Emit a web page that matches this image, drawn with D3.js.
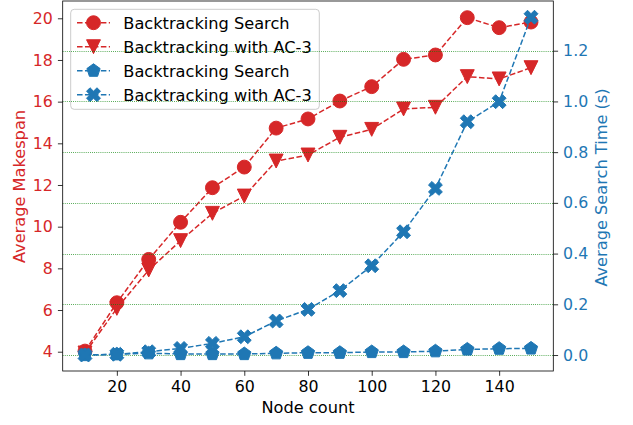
<!DOCTYPE html>
<html>
<head>
<meta charset="utf-8">
<script src="https://cdn.jsdelivr.net/npm/d3@7"></script>
<style>
  html, body { margin: 0; padding: 0; background: #fff; }
  svg { display: block; font-family: "DejaVu Sans", sans-serif; }
</style>
</head>
<body>
<svg id="chart" width="633" height="425"></svg>
<script>
// Node counts on the x axis
const nodeCounts = [10, 20, 30, 40, 50, 60, 70, 80, 90, 100, 110, 120, 130, 140, 150];

// Average makespan (left axis)
const makespanBacktracking = [4.03, 6.35, 8.43, 10.21, 11.87, 12.86, 14.73, 15.17, 16.03, 16.72, 18.03, 18.24, 20.03, 19.55, 19.82];
const makespanAC3 = [3.94, 6.08, 7.92, 9.33, 10.64, 11.47, 13.15, 13.44, 14.29, 14.67, 15.65, 15.73, 17.20, 17.09, 17.63];

// Average search time in seconds (right axis)
const timeBacktracking = [0.000, 0.003, 0.007, 0.004, 0.004, 0.004, 0.007, 0.009, 0.009, 0.012, 0.012, 0.015, 0.022, 0.025, 0.026];
const timeAC3 = [0.000, 0.003, 0.013, 0.026, 0.046, 0.072, 0.134, 0.180, 0.254, 0.352, 0.486, 0.657, 0.920, 0.999, 1.332];

// Tick labels
const xTicks = [20, 40, 60, 80, 100, 120, 140];
const leftTicks = [4, 6, 8, 10, 12, 14, 16, 18, 20];
const rightTicks = [0.0, 0.2, 0.4, 0.6, 0.8, 1.0, 1.2];

const seriesNames = ["Backtracking Search", "Backtracking with AC-3", "Backtracking Search", "Backtracking with AC-3"];

const RED = "#d62728", BLUE = "#1f77b4";
const FS = 15.8;

const svg = d3.select("#chart");
const plot = { left: 62.7, right: 553.3, top: 1, bottom: 371 };

const x = d3.scaleLinear().domain([3, 157]).range([plot.left, plot.right]);
const yLeft = d3.scaleLinear().domain([3.074, 20.83]).range([plot.bottom, plot.top]);
const yRight = d3.scaleLinear().domain([-0.063, 1.396]).range([plot.bottom, plot.top]);

// Marker shape builders, size = marker box in px
const MS = 13.9;
function markerPath(kind) {
  const h = MS / 2;
  if (kind === "circle") return d3.symbol(d3.symbolCircle, Math.PI * h * h)();
  if (kind === "tri") return `M0,${h}L${-h},${-h}L${h},${-h}Z`;
  if (kind === "pent") {
    const pts = d3.range(5).map(i => {
      const a = -Math.PI / 2 + i * 2 * Math.PI / 5;
      return [h * Math.cos(a), h * Math.sin(a)];
    });
    return "M" + pts.map(p => p.join(",")).join("L") + "Z";
  }
  if (kind === "x") {
    const v = [[-1, -2], [0, -1], [1, -2], [2, -1], [1, 0], [2, 1], [1, 2], [0, 1], [-1, 2], [-2, 1], [-1, 0], [-2, -1]];
    return "M" + v.map(p => [p[0] * MS / 4, p[1] * MS / 4].join(",")).join("L") + "Z";
  }
}

const series = [
  { name: seriesNames[0], values: makespanBacktracking, y: yLeft, color: RED, marker: "circle" },
  { name: seriesNames[1], values: makespanAC3, y: yLeft, color: RED, marker: "tri" },
  { name: seriesNames[2], values: timeBacktracking, y: yRight, color: BLUE, marker: "pent" },
  { name: seriesNames[3], values: timeAC3, y: yRight, color: BLUE, marker: "x" }
];

function drawSeries(g, s) {
  const line = d3.line().x((d, i) => x(nodeCounts[i])).y(d => s.y(d));
  g.append("path").datum(s.values)
    .attr("d", line)
    .attr("fill", "none")
    .attr("stroke", s.color)
    .attr("stroke-width", 1.5)
    .attr("stroke-dasharray", "5.55,2.4");
  g.selectAll(null).data(s.values).enter().append("path")
    .attr("d", markerPath(s.marker))
    .attr("transform", (d, i) => `translate(${x(nodeCounts[i])},${s.y(d)})`)
    .attr("fill", s.color)
    .attr("stroke", s.color)
    .attr("stroke-width", 1);
}

// Left-axis series
const gLeft = svg.append("g");
drawSeries(gLeft, series[0]);
drawSeries(gLeft, series[1]);

// Legend
const legend = svg.append("g");
legend.append("rect")
  .attr("x", 70.7).attr("y", 9.3).attr("width", 248.6).attr("height", 100)
  .attr("rx", 3.5)
  .attr("fill", "#fff").attr("fill-opacity", 0.8)
  .attr("stroke", "#cccccc").attr("stroke-width", 1);
series.forEach((s, i) => {
  const cy = 22.7 + i * 24;
  legend.append("line")
    .attr("x1", 77).attr("x2", 110).attr("y1", cy).attr("y2", cy)
    .attr("stroke", s.color).attr("stroke-width", 1.5)
    .attr("stroke-dasharray", "5.55,2.4");
  legend.append("path")
    .attr("d", markerPath(s.marker))
    .attr("transform", `translate(93.5,${cy})`)
    .attr("fill", s.color).attr("stroke", s.color).attr("stroke-width", 1);
  legend.append("text")
    .attr("x", 123.3).attr("y", cy).attr("dy", "0.36em")
    .attr("font-size", 16.2).attr("fill", "#000")
    .text(s.name);
});

// Grid on the right axis ticks
svg.append("g").selectAll("line").data(rightTicks).enter().append("line")
  .attr("x1", plot.left).attr("x2", plot.right)
  .attr("y1", d => Math.round(yRight(d)) + 0.5).attr("y2", d => Math.round(yRight(d)) + 0.5)
  .attr("stroke", "green").attr("stroke-width", 0.8)
  .attr("stroke-dasharray", "0.8,1.3");

// Right-axis series
const gRight = svg.append("g");
drawSeries(gRight, series[2]);
drawSeries(gRight, series[3]);

// Axes
const xAxis = d3.axisBottom(x).tickValues(xTicks).tickSize(4.8).tickPadding(5).tickFormat(d3.format("d"));
const gx = svg.append("g").attr("transform", `translate(0,${plot.bottom})`).call(xAxis);
gx.selectAll("text").attr("font-size", FS).attr("fill", "#000").attr("font-family", "DejaVu Sans");

const lAxis = d3.axisLeft(yLeft).tickValues(leftTicks).tickSize(4.8).tickPadding(5).tickFormat(d3.format("d"));
const gl = svg.append("g").attr("transform", `translate(${plot.left},0)`).call(lAxis);
gl.selectAll("text").attr("font-size", FS).attr("fill", RED).attr("font-family", "DejaVu Sans");

const rAxis = d3.axisRight(yRight).tickValues(rightTicks).tickSize(4.8).tickPadding(5).tickFormat(d3.format(".1f"));
const gr = svg.append("g").attr("transform", `translate(${plot.right},0)`).call(rAxis);
gr.selectAll("text").attr("font-size", FS).attr("fill", BLUE).attr("font-family", "DejaVu Sans");

[gx, gl, gr].forEach(g => {
  g.select(".domain").remove();
  g.selectAll(".tick line").attr("stroke", "#000").attr("stroke-width", 0.8);
});

// Frame
svg.append("rect")
  .attr("x", plot.left).attr("y", plot.top)
  .attr("width", plot.right - plot.left).attr("height", plot.bottom - plot.top)
  .attr("fill", "none").attr("stroke", "#000").attr("stroke-width", 0.8);

// Axis titles
svg.append("text")
  .attr("x", (plot.left + plot.right) / 2).attr("y", 413.3)
  .attr("text-anchor", "middle").attr("font-size", 16.2).attr("fill", "#000")
  .text("Node count");
svg.append("text")
  .attr("transform", "translate(25,186.5) rotate(-90)")
  .attr("text-anchor", "middle").attr("font-size", 16.2).attr("fill", RED)
  .text("Average Makespan");
svg.append("text")
  .attr("transform", "translate(606.5,187.5) rotate(-90)")
  .attr("text-anchor", "middle").attr("font-size", 16.2).attr("fill", BLUE)
  .text("Average Search Time (s)");
</script>
</body>
</html>
